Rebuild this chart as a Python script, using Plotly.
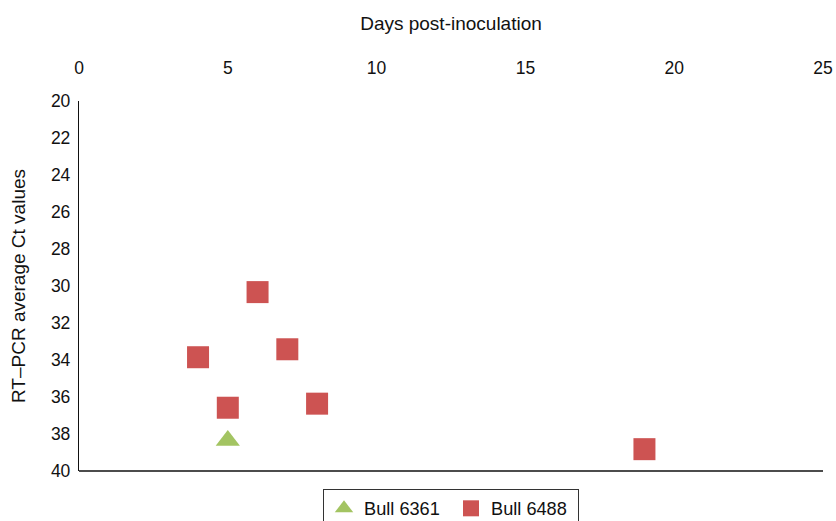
import plotly.graph_objects as go

# Data
bull6361_days = [5]
bull6361_ct = [38.35]
bull6488_days = [4, 5, 6, 7, 8, 19]
bull6488_ct = [33.85, 36.58, 30.33, 33.42, 36.36, 38.82]

x_ticks = [0, 5, 10, 15, 20, 25]
y_ticks = [20, 22, 24, 26, 28, 30, 32, 34, 36, 38, 40]

GREEN = "#A3C462"
RED = "#CD5352"
FONT = "Liberation Sans, Arial, sans-serif"

fig = go.Figure()
fig.add_trace(go.Scatter(
    x=bull6361_days, y=bull6361_ct, mode="markers", name="Bull 6361",
    marker=dict(symbol="triangle-up", size=21, color=GREEN, line=dict(width=0)),
))
fig.add_trace(go.Scatter(
    x=bull6488_days, y=bull6488_ct, mode="markers", name="Bull 6488",
    marker=dict(symbol="square", size=22, color=RED, line=dict(width=0)),
))

fig.update_layout(
    width=836, height=521,
    margin=dict(l=79, r=13, t=101, b=50, autoexpand=False),
    paper_bgcolor="white", plot_bgcolor="white",
    font=dict(family=FONT, size=17.5, color="#111111"),
    showlegend=True,
    legend=dict(
        orientation="h", x=0.5, xanchor="center", y=-0.0486, yanchor="top",
        bordercolor="#333333", borderwidth=1, font=dict(size=18.2),
        traceorder="normal", entrywidth=82,
    ),
    xaxis=dict(
        side="top", range=[0, 25], tickvals=x_ticks, showgrid=False,
        zeroline=False, showline=False, ticks="", automargin=False,
        ticklabelstandoff=23,
        title=dict(text="Days post-inoculation", standoff=21, font=dict(size=19)),
    ),
    yaxis=dict(
        range=[40, 20], tickvals=y_ticks, showgrid=False, zeroline=False,
        showline=True, linecolor="#111111", linewidth=1.3, ticks="", automargin=False,
        ticklabelstandoff=4,
        title=dict(text="RT–PCR average Ct values", standoff=20, font=dict(size=19)),
    ),
    shapes=[dict(type="line", xref="paper", yref="paper", x0=0, x1=1, y0=0, y1=0,
                 line=dict(color="#111111", width=1.3))],
)

fig.write_html(
    "out.html",
    config={"displayModeBar": False},
    post_script="document.documentElement.style.overflow='hidden';"
                "document.body.style.margin='0';document.body.style.overflow='hidden';",
)
